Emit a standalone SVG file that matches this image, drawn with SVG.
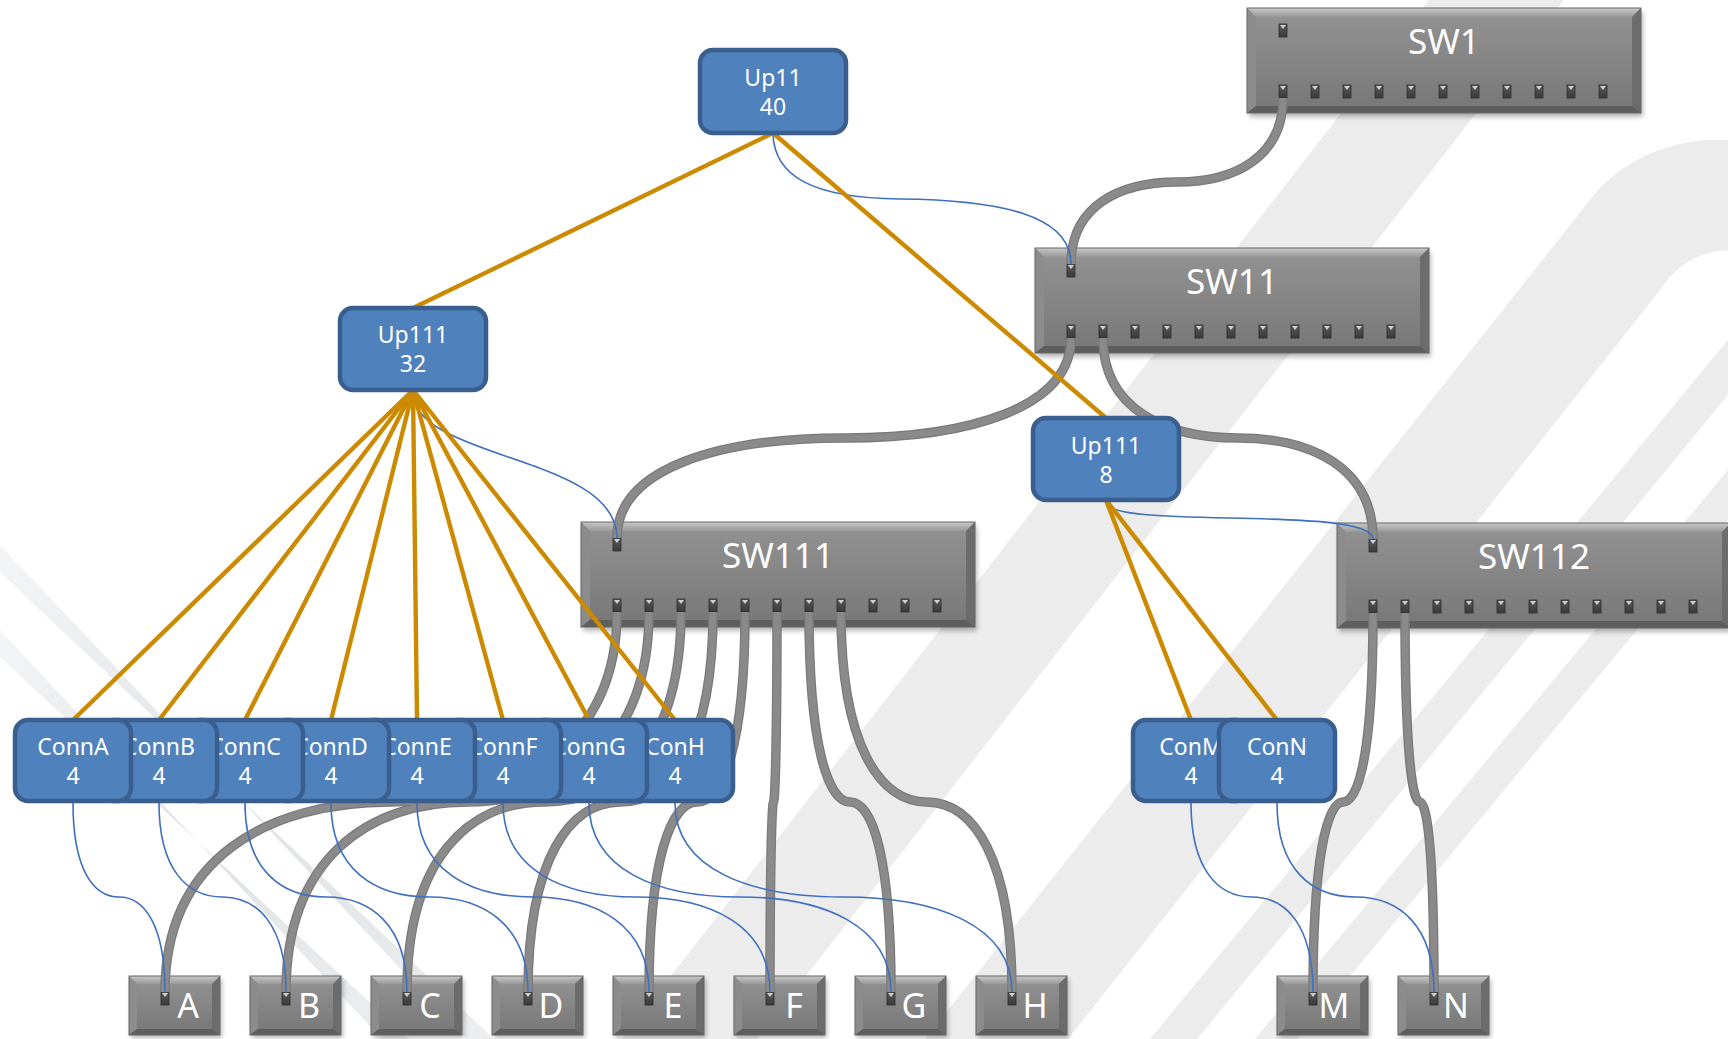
<svg xmlns="http://www.w3.org/2000/svg" width="1728" height="1039" viewBox="0 0 1728 1039">
<style>
.bg{fill:#ececec}
.lbl{font-family:"Noto Sans","Open Sans",sans-serif;fill:#ffffff;text-anchor:middle}
.sw{font-size:35px}
.dv{font-size:34px}
.bx{font-size:23px}
.node{fill:#4f81bd;stroke:#3a5f8f;stroke-width:4.5}
.cable{fill:none;stroke:#7a7a7a;stroke-width:9.5}
.cable2{fill:none;stroke:#8a8a8a;stroke-width:7}
.blue{fill:none;stroke:#3f6fbf;stroke-width:1.6}
.orange{fill:none;stroke:#cc8a00;stroke-width:4.4}
</style>
<defs>
<linearGradient id="gBody" x1="0" y1="0" x2="0" y2="1">
<stop offset="0" stop-color="#939393"/><stop offset="1" stop-color="#777777"/>
</linearGradient>
<linearGradient id="gTop" x1="0" y1="0" x2="0" y2="1">
<stop offset="0" stop-color="#c8c8c8"/><stop offset="1" stop-color="#999999"/>
</linearGradient>
<linearGradient id="gPort" x1="0" y1="0" x2="0" y2="1">
<stop offset="0" stop-color="#5a5a5a"/><stop offset="1" stop-color="#3a3a3a"/>
</linearGradient>
<linearGradient id="gStripe" x1="0" y1="0" x2="1" y2="1">
<stop offset="0" stop-color="#f4f5f6"/><stop offset="0.5" stop-color="#e0e3e5"/><stop offset="1" stop-color="#eceef0"/>
</linearGradient>
<filter id="sh" x="-10%" y="-20%" width="120%" height="150%">
<feGaussianBlur stdDeviation="2.5"/>
</filter>
<g id="pt">
<rect x="-4" y="0" width="8" height="13" fill="url(#gPort)" stroke="#2e2e2e" stroke-width="0.8"/>
<path d="M-3 1 L3 1 L0 5 Z" fill="#d0d0d0"/>
</g>
<g id="swShape">
<rect x="2" y="4" width="394" height="105" fill="#000" opacity="0.28" filter="url(#sh)"/>
<rect x="0" y="0" width="394" height="105" fill="url(#gBody)"/>
<polygon points="0,0 394,0 385,9 9,9" fill="url(#gTop)"/>
<polygon points="0,0 9,9 9,98 0,105" fill="#8c8c8c"/>
<polygon points="394,0 394,105 385,98 385,9" fill="#6c6c6c"/>
<polygon points="0,105 9,98 385,98 394,105" fill="#5e5e5e"/>
<rect x="0" y="0" width="394" height="105" fill="none" stroke="#666" stroke-width="1"/>
<use href="#pt" x="36" y="16"/>
<use href="#pt" x="36" y="77"/><use href="#pt" x="68" y="77"/><use href="#pt" x="100" y="77"/><use href="#pt" x="132" y="77"/><use href="#pt" x="164" y="77"/><use href="#pt" x="196" y="77"/><use href="#pt" x="228" y="77"/><use href="#pt" x="260" y="77"/><use href="#pt" x="292" y="77"/><use href="#pt" x="324" y="77"/><use href="#pt" x="356" y="77"/>
</g>
<g id="dvShape">
<rect x="2" y="3" width="91" height="59" fill="#000" opacity="0.28" filter="url(#sh)"/>
<rect x="0" y="0" width="91" height="59" fill="url(#gBody)"/>
<polygon points="0,0 91,0 83,8 8,8" fill="url(#gTop)"/>
<polygon points="0,0 8,8 8,53 0,59" fill="#8c8c8c"/>
<polygon points="91,0 91,59 83,53 83,8" fill="#6c6c6c"/>
<polygon points="0,59 8,53 83,53 91,59" fill="#5e5e5e"/>
<rect x="0" y="0" width="91" height="59" fill="none" stroke="#666" stroke-width="1"/>
<use href="#pt" x="36" y="16"/>
</g>
</defs>
<rect width="1728" height="1039" fill="#ffffff"/>
<g id="background">
<polygon class="bg" points="1429,0 1564,0 757,1039 622,1039"/>
<path class="bg" d="M1728,140 L1705,140 Q1625,148 1582,210 L925,1039 L1068,1039 L1660,290 Q1685,252 1728,250 Z"/>
<polygon class="bg" points="1728,340 1728,395 1197,1039 1150,1039"/>
<polygon class="bg" points="1728,470 1728,520 1298,1039 1255,1039"/>
<polygon fill="url(#gStripe)" points="0,545 0,572 494,1039 467,1039"/>
<polygon fill="url(#gStripe)" points="0,630 0,657 409,1039 382,1039"/>
</g>
<g id="SW1"><use href="#swShape" x="1247" y="8"/><text class="lbl sw" x="1444" y="54">SW1</text></g>
<g id="SW11"><use href="#swShape" x="1035" y="248"/><text class="lbl sw" x="1232" y="294">SW11</text></g>
<g id="SW111"><use href="#swShape" x="581" y="522"/><text class="lbl sw" x="778" y="568">SW111</text></g>
<g id="SW112"><use href="#swShape" x="1337" y="523"/><text class="lbl sw" x="1534" y="569">SW112</text></g>
<g id="A"><use href="#dvShape" x="129" y="976"/><text class="lbl dv" x="188" y="1018">A</text></g>
<g id="B"><use href="#dvShape" x="250" y="976"/><text class="lbl dv" x="309" y="1018">B</text></g>
<g id="C"><use href="#dvShape" x="371" y="976"/><text class="lbl dv" x="430" y="1018">C</text></g>
<g id="D"><use href="#dvShape" x="492" y="976"/><text class="lbl dv" x="551" y="1018">D</text></g>
<g id="E"><use href="#dvShape" x="613" y="976"/><text class="lbl dv" x="673" y="1018">E</text></g>
<g id="F"><use href="#dvShape" x="734" y="976"/><text class="lbl dv" x="794" y="1018">F</text></g>
<g id="G"><use href="#dvShape" x="855" y="976"/><text class="lbl dv" x="914" y="1018">G</text></g>
<g id="H"><use href="#dvShape" x="976" y="976"/><text class="lbl dv" x="1035" y="1018">H</text></g>
<g id="M"><use href="#dvShape" x="1277" y="976"/><text class="lbl dv" x="1334" y="1018">M</text></g>
<g id="N"><use href="#dvShape" x="1398" y="976"/><text class="lbl dv" x="1456" y="1018">N</text></g>
<g id="connectors">
<g id="cables">
<path class="cable" d="M1283 98 C1283 157 1235 182 1177 182 C1118 182 1071 207 1071 264"/>
<path class="cable" d="M1071 338 C1071 408 969 438 844 438 C719 438 617 468 617 538"/>
<path class="cable" d="M1103 338 C1103 408 1164 438 1238 438 C1312 438 1373 468 1373 539"/>
<path class="cable" d="M617 612 C617 745 515 802 391 802 C267 802 165 859 165 992"/>
<path class="cable" d="M649 612 C649 745 567 802 467.5 802 C368 802 286 859 286 992"/>
<path class="cable" d="M681 612 C681 745 619 802 544 802 C469 802 407 859 407 992"/>
<path class="cable" d="M713 612 C713 745 671 802 620.5 802 C570 802 528 859 528 992"/>
<path class="cable" d="M745 612 C745 745 723 802 697 802 C671 802 649 859 649 992"/>
<path class="cable" d="M777 612 C777 745 775 802 773.5 802 C772 802 770 859 770 992"/>
<path class="cable" d="M809 612 C809 745 828 802 850 802 C873 802 891 859 891 992"/>
<path class="cable" d="M841 612 C841 745 880 802 926.5 802 C974 802 1012 859 1012 992"/>
<path class="cable" d="M1373 613 C1373 746 1360 802 1343 802 C1327 802 1313 859 1313 992"/>
<path class="cable" d="M1405 613 C1405 746 1412 802 1419.5 802 C1428 802 1434 859 1434 992"/>
<path class="cable2" d="M1283 98 C1283 157 1235 182 1177 182 C1118 182 1071 207 1071 264"/>
<path class="cable2" d="M1071 338 C1071 408 969 438 844 438 C719 438 617 468 617 538"/>
<path class="cable2" d="M1103 338 C1103 408 1164 438 1238 438 C1312 438 1373 468 1373 539"/>
<path class="cable2" d="M617 612 C617 745 515 802 391 802 C267 802 165 859 165 992"/>
<path class="cable2" d="M649 612 C649 745 567 802 467.5 802 C368 802 286 859 286 992"/>
<path class="cable2" d="M681 612 C681 745 619 802 544 802 C469 802 407 859 407 992"/>
<path class="cable2" d="M713 612 C713 745 671 802 620.5 802 C570 802 528 859 528 992"/>
<path class="cable2" d="M745 612 C745 745 723 802 697 802 C671 802 649 859 649 992"/>
<path class="cable2" d="M777 612 C777 745 775 802 773.5 802 C772 802 770 859 770 992"/>
<path class="cable2" d="M809 612 C809 745 828 802 850 802 C873 802 891 859 891 992"/>
<path class="cable2" d="M841 612 C841 745 880 802 926.5 802 C974 802 1012 859 1012 992"/>
<path class="cable2" d="M1373 613 C1373 746 1360 802 1343 802 C1327 802 1313 859 1313 992"/>
<path class="cable2" d="M1405 613 C1405 746 1412 802 1419.5 802 C1428 802 1434 859 1434 992"/>
</g>
<g id="links">
<path class="blue" d="M773 135 C775 175 810 198 900 199 C1000 200 1071 215 1071 264"/>
<path class="blue" d="M413 392 C413 460 617 455 617 538"/>
<path class="blue" d="M1106 502 C1106 530 1373 505 1373 539"/>
<path class="blue" d="M73 803 C73 870 93.7 897 119 897 C144.3 897 165 925 165 992"/>
<path class="blue" d="M159 803 C159 870 187.6 897 222.5 897 C257.4 897 286 925 286 992"/>
<path class="blue" d="M245 803 C245 870 281.5 897 326 897 C370.6 897 407 925 407 992"/>
<path class="blue" d="M331 803 C331 870 375.3 897 429.5 897 C483.7 897 528 925 528 992"/>
<path class="blue" d="M417 803 C417 870 469.2 897 533 897 C596.8 897 649 925 649 992"/>
<path class="blue" d="M503 803 C503 870 563.1 897 636.5 897 C709.9 897 770 925 770 992"/>
<path class="blue" d="M589 803 C589 870 657 897 740 897 C823 897 891 925 891 992"/>
<path class="blue" d="M675 803 C675 870 750.8 897 843.5 897 C936.2 897 1012 925 1012 992"/>
<path class="blue" d="M1191 803 C1191 870 1218.5 897 1252 897 C1285.6 897 1313 925 1313 992"/>
<path class="blue" d="M1277 803 C1277 870 1312.3 897 1355.5 897 C1398.7 897 1434 925 1434 992"/>
</g>
<g id="tree">
<path class="orange" d="M773 133 L413 308"/>
<path class="orange" d="M773 133 L1106 418"/>
<path class="orange" d="M413 390 L73 720"/>
<path class="orange" d="M413 390 L159 720"/>
<path class="orange" d="M413 390 L245 720"/>
<path class="orange" d="M413 390 L331 720"/>
<path class="orange" d="M413 390 L417 720"/>
<path class="orange" d="M413 390 L503 720"/>
<path class="orange" d="M413 390 L589 720"/>
<path class="orange" d="M413 390 L675 720"/>
<path class="orange" d="M1106 500 L1191 720"/>
<path class="orange" d="M1106 500 L1277 720"/>
</g>
</g>
<g id="Up11"><rect class="node" x="700" y="50" width="146" height="83" rx="13"/><text class="lbl bx" x="773" y="86">Up11</text><text class="lbl bx" x="773" y="115">40</text></g>
<g id="Up111a"><rect class="node" x="340" y="308" width="146" height="82" rx="13"/><text class="lbl bx" x="413" y="343">Up111</text><text class="lbl bx" x="413" y="372">32</text></g>
<g id="Up111b"><rect class="node" x="1033" y="418" width="146" height="82" rx="13"/><text class="lbl bx" x="1106" y="454">Up111</text><text class="lbl bx" x="1106" y="483">8</text></g>
<g id="ConnH"><rect class="node" x="617" y="720" width="116" height="81" rx="13"/><text class="lbl bx" x="675" y="755">ConH</text><text class="lbl bx" x="675" y="784">4</text></g>
<g id="ConnG"><rect class="node" x="531" y="720" width="116" height="81" rx="13"/><text class="lbl bx" x="589" y="755">ConnG</text><text class="lbl bx" x="589" y="784">4</text></g>
<g id="ConnF"><rect class="node" x="445" y="720" width="116" height="81" rx="13"/><text class="lbl bx" x="503" y="755">ConnF</text><text class="lbl bx" x="503" y="784">4</text></g>
<g id="ConnE"><rect class="node" x="359" y="720" width="116" height="81" rx="13"/><text class="lbl bx" x="417" y="755">ConnE</text><text class="lbl bx" x="417" y="784">4</text></g>
<g id="ConnD"><rect class="node" x="273" y="720" width="116" height="81" rx="13"/><text class="lbl bx" x="331" y="755">ConnD</text><text class="lbl bx" x="331" y="784">4</text></g>
<g id="ConnC"><rect class="node" x="187" y="720" width="116" height="81" rx="13"/><text class="lbl bx" x="245" y="755">ConnC</text><text class="lbl bx" x="245" y="784">4</text></g>
<g id="ConnB"><rect class="node" x="101" y="720" width="116" height="81" rx="13"/><text class="lbl bx" x="159" y="755">ConnB</text><text class="lbl bx" x="159" y="784">4</text></g>
<g id="ConnA"><rect class="node" x="15" y="720" width="116" height="81" rx="13"/><text class="lbl bx" x="73" y="755">ConnA</text><text class="lbl bx" x="73" y="784">4</text></g>
<g id="ConM"><rect class="node" x="1133" y="720" width="116" height="81" rx="13"/><text class="lbl bx" x="1191" y="755">ConM</text><text class="lbl bx" x="1191" y="784">4</text></g>
<g id="ConN"><rect class="node" x="1219" y="720" width="116" height="81" rx="13"/><text class="lbl bx" x="1277" y="755">ConN</text><text class="lbl bx" x="1277" y="784">4</text></g>
</svg>
